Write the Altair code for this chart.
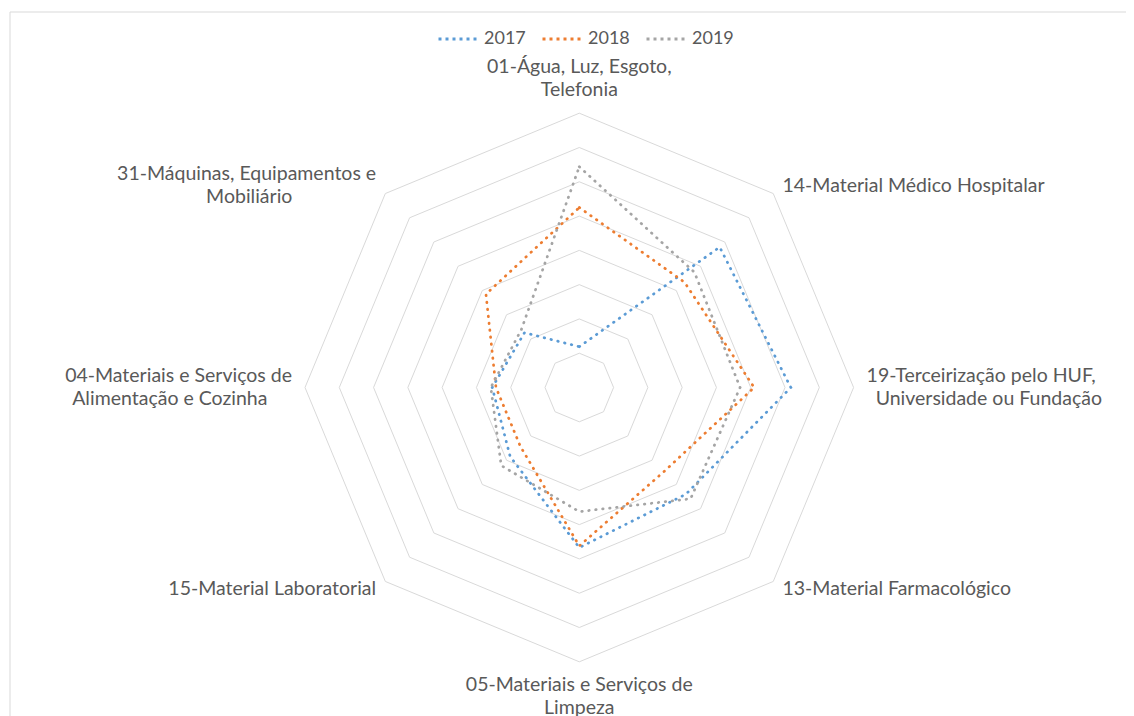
import altair as alt
import pandas as pd

# ---------------- data ----------------
categories = [
    "01-Água, Luz, Esgoto,\nTelefonia",
    "14-Material Médico Hospitalar",
    "19-Terceirização pelo HUF,\nUniversidade ou Fundação",
    "13-Material Farmacológico",
    "05-Materiais e Serviços de\nLimpeza",
    "15-Material Laboratorial",
    "04-Materiais e Serviços de\nAlimentação e Cozinha",
    "31-Máquinas, Equipamentos e\nMobiliário",
]
years = ["2017", "2018", "2019"]
v2017 = [1.19, 5.79, 6.17, 4.40, 4.67, 2.85, 2.54, 2.26]
v2018 = [5.25, 4.34, 5.10, 3.48, 4.62, 2.43, 2.43, 3.85]
v2019 = [6.44, 4.75, 4.69, 4.59, 3.62, 3.22, 2.58, 2.39]
ring_levels = [1, 2, 3, 4, 5, 6, 7, 8]
colors = ["#5B9BD5", "#ED7D31", "#A5A5A5"]

# ---------------- layout constants ----------------
N = len(categories)
RMAX = max(ring_levels)
W = 548.6                      # plot area (square)
UPP = 2 * RMAX / W             # data units per pixel
FONT = "Lato"
FS = 19.5
LH = 23
CHAR_W = 9.4                   # average glyph width used to centre short lines
TXT = "#595959"

series_rows = []
for yr, vals in zip(years, [v2017, v2018, v2019]):
    for i in range(N + 1):
        series_rows.append({"year": yr, "idx": i, "value": vals[i % N]})
series = pd.DataFrame(series_rows)

rings = pd.DataFrame([{"ring": r, "idx": i, "value": r}
                      for r in ring_levels for i in range(N + 1)])

label_rows = []
for i, cat in enumerate(categories):
    parts = cat.split("\n")
    longest = max(range(len(parts)), key=lambda k: len(parts[k]))
    for j, p in enumerate(parts):
        label_rows.append({"idx": i, "line": p, "j": j, "nlines": len(parts),
                           "maxlen": len(parts[longest]),
                           "longest": 1 if j == longest else 0})
labels = pd.DataFrame(label_rows)

ang = f"datum.idx * 2 * PI / {N}"

xs = alt.X("x:Q", scale=alt.Scale(domain=[-RMAX, RMAX]), axis=None)
ys = alt.Y("y:Q", scale=alt.Scale(domain=[-RMAX, RMAX]), axis=None)

grid = alt.Chart(rings).transform_calculate(
    x=f"datum.value * sin({ang})", y=f"datum.value * cos({ang})"
).mark_line(color="#D9D9D9", strokeWidth=1).encode(
    x=xs, y=ys, detail="ring:N", order="idx:Q"
)

lines = alt.Chart(series).transform_calculate(
    x=f"datum.value * sin({ang})", y=f"datum.value * cos({ang})"
).mark_line(strokeWidth=2.75, strokeCap="round", strokeDash=[0.5, 6.5]).encode(
    x=xs, y=ys,
    color=alt.Color(
        "year:N",
        scale=alt.Scale(domain=years, range=colors),
        legend=alt.Legend(
            title=None, orient="none", legendX=132, legendY=-96,
            direction="horizontal", symbolType="stroke", symbolSize=1600,
            symbolStrokeWidth=3, symbolDash=[3, 4], labelFont=FONT,
            labelFontSize=18, labelColor=TXT, labelOffset=4,
            columnPadding=10, padding=0,
        ),
    ),
    order="idx:Q",
)

base_text = alt.Chart(labels).transform_calculate(
    s=f"sin({ang})", c=f"cos({ang})",
).transform_calculate(
    side="datum.s > 0.1 ? 1 : (datum.s < -0.1 ? -1 : 0)",
).transform_calculate(
    anchor=f"{RMAX} * datum.s + 13 * datum.s * {UPP}",
    yc=f"{RMAX} * datum.c + (datum.side != 0 ? 11.3 * datum.c : datum.c * (12 + datum.nlines * {LH / 2})) * {UPP}",
).transform_calculate(
    x=f"datum.side == 0 ? 0 : (datum.longest == 1 ? datum.anchor : datum.anchor + datum.side * datum.maxlen * {CHAR_W / 2} * {UPP})",
    y=f"datum.yc + ((datum.nlines - 1) / 2 - datum.j) * {LH} * {UPP}",
)

tprops = dict(font=FONT, fontSize=FS, color=TXT, baseline="middle")
text_left = base_text.transform_filter("datum.side == 1 && datum.longest == 1").mark_text(
    align="left", **tprops).encode(x=xs, y=ys, text="line:N")
text_right = base_text.transform_filter("datum.side == -1 && datum.longest == 1").mark_text(
    align="right", **tprops).encode(x=xs, y=ys, text="line:N")
text_center = base_text.transform_filter("datum.side == 0 || datum.longest == 0").mark_text(
    align="center", **tprops).encode(x=xs, y=ys, text="line:N")

border = alt.Chart(pd.DataFrame({"a": [0]})).mark_rect(
    fillOpacity=0, stroke="#D9D9D9", strokeWidth=1
).encode(
    x=alt.value(-295), x2=alt.value(822), y=alt.value(-101.2), y2=alt.value(700)
)

chart = alt.layer(border, grid, lines, text_left, text_right, text_center).properties(
    width=W, height=W,
    autosize=alt.AutoSizeParams(type="none"),
    padding={"left": 297, "top": 105.2, "right": 272.4, "bottom": 54.2},
    background="white",
).configure_view(stroke=None)

chart.save("out.html", embed_options={"renderer": "svg", "actions": False})
